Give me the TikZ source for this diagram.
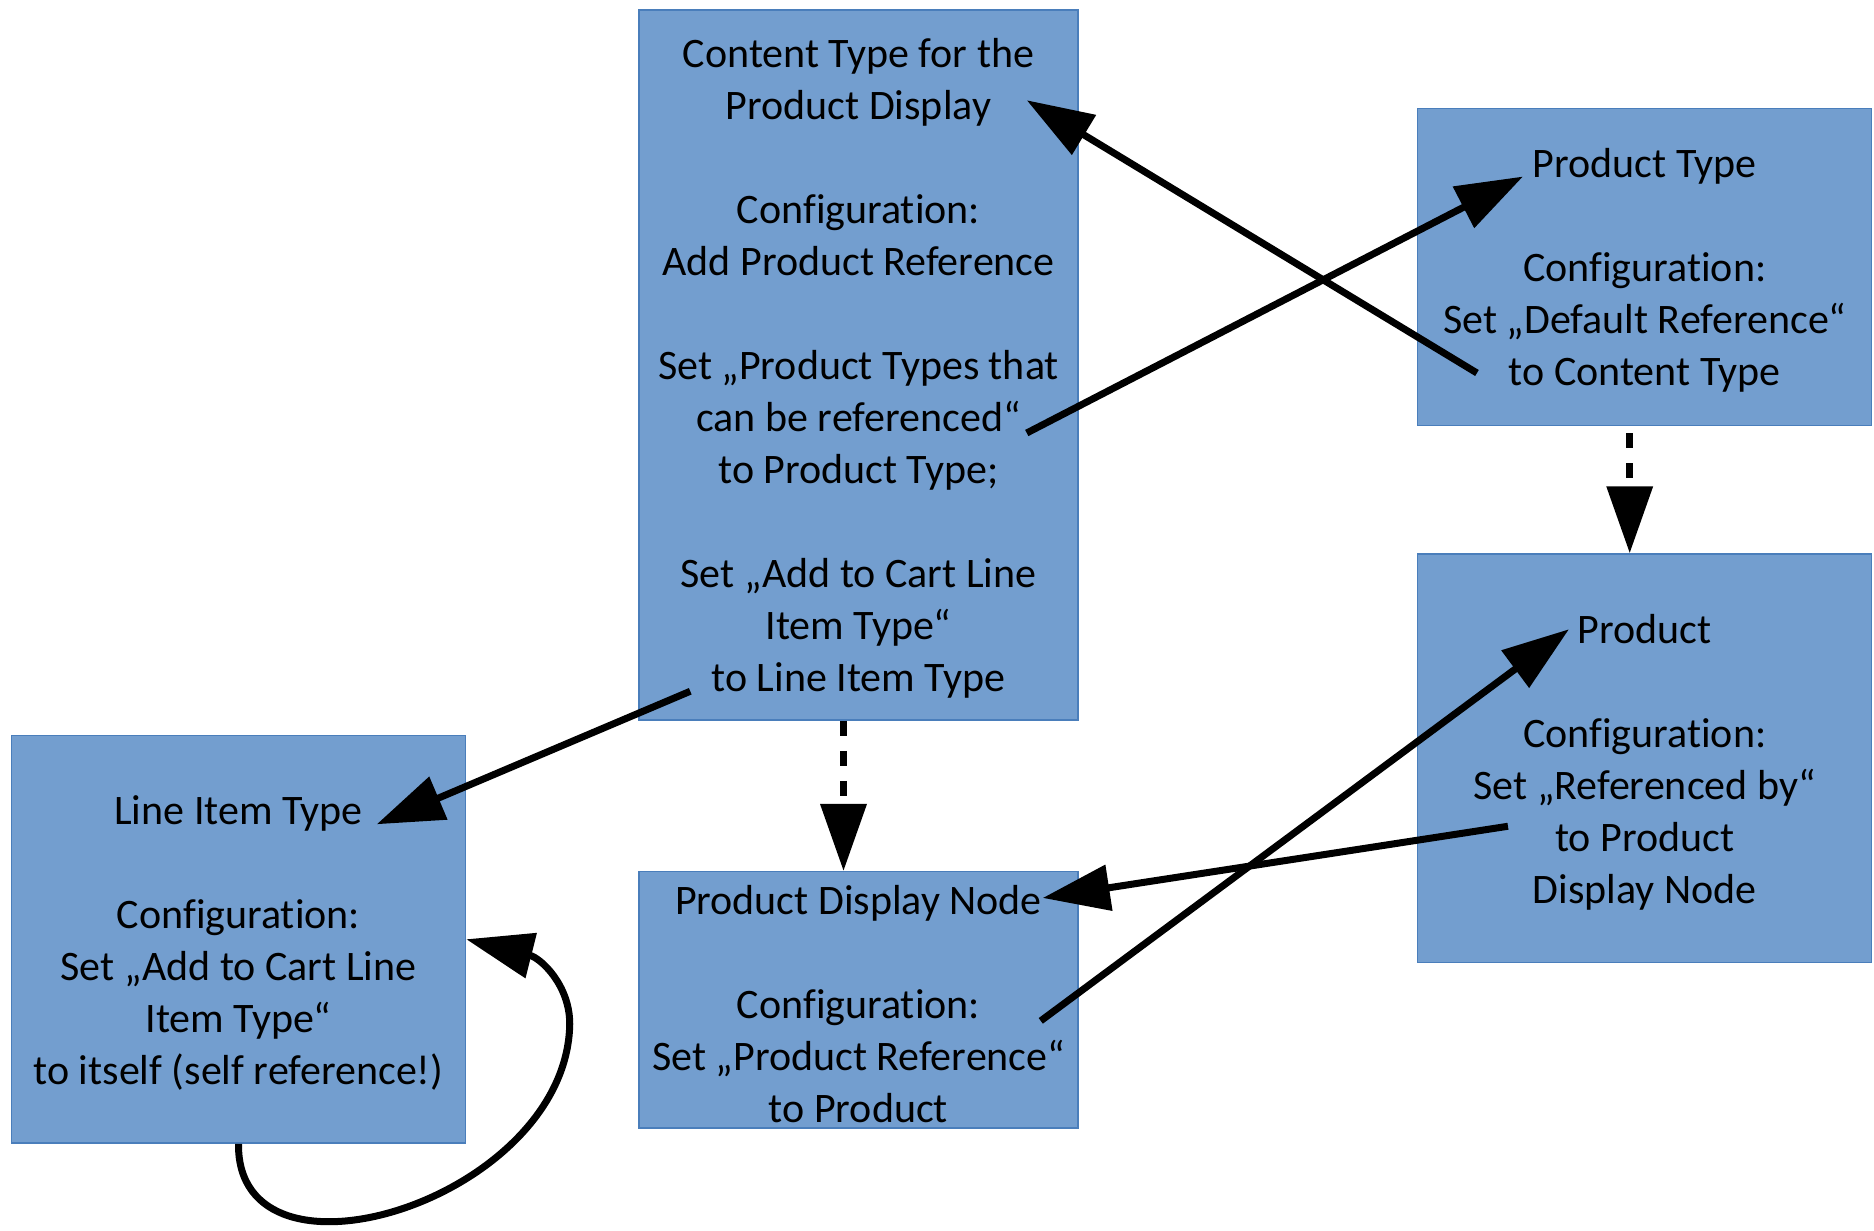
\documentclass[tikz,border=0pt]{standalone}
\usepackage{fontspec}
\setmainfont{Carlito}[Ligatures=NoCommon]
\usepackage{tikz}
\usetikzlibrary{arrows.meta}
\definecolor{boxfill}{RGB}{115,158,207}
\definecolor{boxline}{RGB}{74,126,187}
\newcommand{\boxstrut}{\rule{0pt}{18.3pt}}
\tikzset{
mybox/.style={
  draw=boxline,
  fill=boxfill,
  line width=0.75pt,
  inner sep=0pt,
  align=center,
  font=\fontsize{21pt}{26pt}\selectfont,
  minimum width=#1
  },
myarrow/.style={
  ->,
  line width=3.5pt
  },
mydash/.style={
  myarrow,
  dash pattern=on 7.5pt off 7.5pt
  }
}

\begin{document}
\begin{tikzpicture}[>={Triangle[length=33.5pt,width=22.5pt]},x=0.5pt,y=-0.5pt]
    \useasboundingbox (0,0) rectangle (1874,1231);
    % boxes
    \node[mybox=219.5pt,minimum height=355pt] (content) at (858.5,365)
        {\boxstrut Content Type for the\\Product Display\\[26pt]
         Configuration:\\Add Product Reference\\[26pt]
         Set „Product Types that\\can be referenced“\\to Product Type;\\[26pt]
         Set „Add to Cart Line\\Item Type“\\to Line Item Type};
    \node[mybox=227pt,minimum height=158.7pt] (ptype) at (1644.7,267)
        {\boxstrut Product Type\\[26pt]Configuration:\\Set „Default Reference“\\to Content Type};
    \node[mybox=227pt,minimum height=204.25pt] (product) at (1644.7,758.25)
        {\boxstrut Product\\[26pt]Configuration:\\Set „Referenced by“\\to Product\\Display Node};
    \node[mybox=227pt,minimum height=203.75pt] (lineitem) at (238.5,939.25)
        {\boxstrut Line Item Type\\[26pt]Configuration:\\Set „Add to Cart Line\\Item Type“\\to itself (self reference!)};
    \node[mybox=219.5pt,minimum height=128.15pt] (pdnode) at (858.5,999.85)
        {\boxstrut Product Display Node\\[26pt]Configuration:\\Set „Product Reference“\\to Product};
    % references
    \draw[myarrow] ([shift={(60,106)}]ptype.west) -- ([shift={(-52,91)}]content.north east);
    \draw[myarrow] ([shift={(-52,68)}]content.east) -- ([shift={(106,69)}]ptype.north west);
    \draw[myarrow] ([shift={(52,-29.5)}]content.south west) -- ([shift={(-89.5,89.5)}]lineitem.north east);
    \draw[myarrow] ([shift={(91,68)}]product.west) -- ([shift={(-36,27)}]pdnode.north east);
    \draw[myarrow] ([shift={(-38,21)}]pdnode.east) -- ([shift={(152,76)}]product.north west);
    \draw[myarrow] (lineitem.south) .. controls +(-2,157) and +(-3,176) .. ([shift={(103.5,84.75)}]lineitem.east)
        .. controls +(0,-39) and +(74.5,18.75) .. (lineitem.east);
    % instances
    \draw[mydash] ([xshift=-7.5pt]content.south) -- ([xshift=-7.5pt]pdnode.north);
    \draw[mydash,dash phase=11.5pt] ([xshift=-7.5pt]ptype.south) -- ([xshift=-7.5pt]product.north);
\end{tikzpicture}
\end{document}
